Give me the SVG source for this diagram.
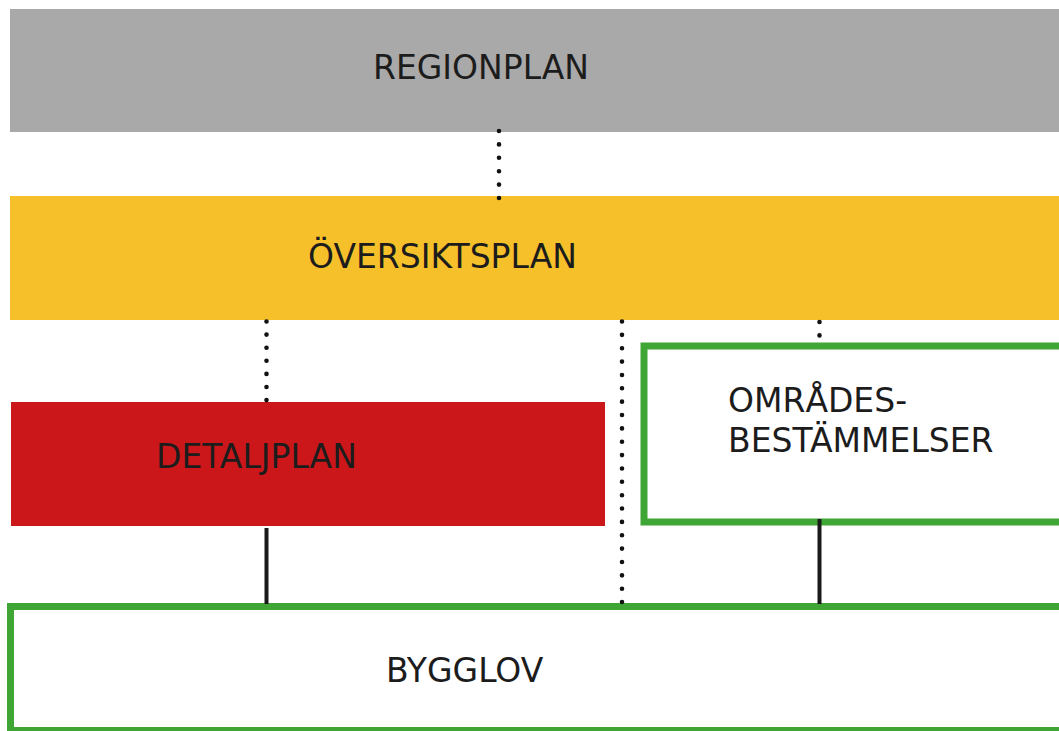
<svg xmlns="http://www.w3.org/2000/svg" width="1059" height="731" viewBox="0 0 1059 731">
<style>
.lbl{font-family:"DejaVu Sans","Verdana",sans-serif;font-size:33px;fill:#1c1c1c}
.dot{stroke:#111;stroke-width:4.6;stroke-linecap:round;fill:none}
.d1{stroke-dasharray:0 13.4}
.d2{stroke-dasharray:0 13.1}
.d3{stroke-dasharray:0 13.36}
.solid{stroke:#1a1a1a;stroke-width:4;fill:none}
.green{fill:#fff;stroke:#3fa535;stroke-width:7}
</style>
<rect width="1059" height="731" fill="#fff"/>
<g id="regionplan">
<rect x="10" y="9" width="1060" height="123" fill="#a9a9a9"/>
<text class="lbl" x="373" y="79">REGIONPLAN</text>
</g>
<g id="oversiktsplan">
<rect x="10" y="196" width="1060" height="124" fill="#f5c029"/>
<text class="lbl" x="308" y="268">ÖVERSIKTSPLAN</text>
</g>
<g id="detaljplan">
<rect x="11" y="402" width="594" height="124" fill="#cb1719"/>
<text class="lbl" x="156" y="468">DETALJPLAN</text>
</g>
<g id="omradesbestammelser">
<rect class="green" x="644" y="346" width="430" height="176"/>
<text class="lbl" x="728" y="412">OMRÅDES-</text>
<text class="lbl" x="728" y="452">BESTÄMMELSER</text>
</g>
<g id="bygglov">
<rect class="green" x="10.5" y="606.5" width="1060" height="124"/>
<text class="lbl" x="386" y="682">BYGGLOV</text>
</g>
<g id="connectors">
<line class="dot d1" x1="499" y1="131" x2="499" y2="198.8"/>
<line class="dot d2" x1="266.5" y1="321.5" x2="266.5" y2="400.5"/>
<line class="dot d3" x1="622" y1="321.5" x2="622" y2="602.8"/>
<line class="dot d1" x1="819.5" y1="322" x2="819.5" y2="341"/>
<line class="solid" x1="266.5" y1="528" x2="266.5" y2="604"/>
<line class="solid" x1="819.5" y1="519" x2="819.5" y2="604"/>
</g>
</svg>
